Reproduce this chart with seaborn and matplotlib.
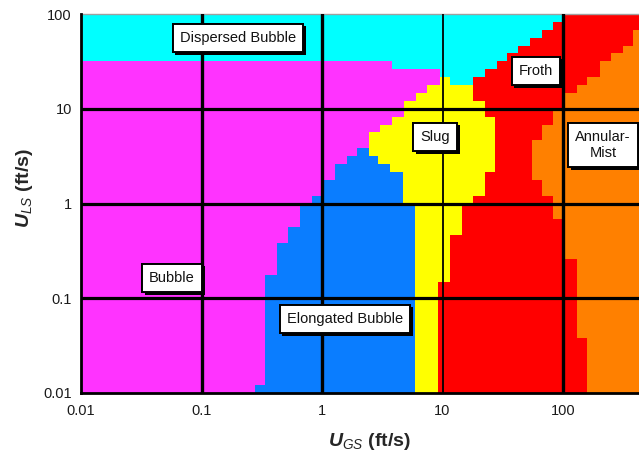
import numpy as np
import matplotlib
matplotlib.use("Agg")
import matplotlib.pyplot as plt
import matplotlib.patheffects as pe
from matplotlib.ticker import FixedLocator, FixedFormatter, LogLocator, NullFormatter
import seaborn as sns

# ---------------------------------------------------------------------------
# Flow-regime map on a U_GS / U_LS grid.
# Each regime is described row by row: *_uls holds the lower U_LS edge of a
# step, *_ugs the superficial gas velocity where that regime ends on the step.
# A value of 0.01 means the regime is absent on that step.
# ---------------------------------------------------------------------------
bubble_uls = [0.01, 0.0121, 0.178, 0.383, 0.562, 1.0, 1.21, 1.78, 2.61, 3.16,
              3.83, 5.62, 6.81, 8.25, 12.1, 14.7, 17.8, 26.1, 31.6]
bubble_ugs = [0.278, 0.336, 0.424, 0.523, 0.656, 0.826, 1.02, 1.28, 1.61, 1.95,
              2.45, 3.03, 3.81, 4.79, 6.03, 7.44, 9.53, 3.81, 0.01]

elongated_uls = [0.01, 1.0, 2.15, 2.61, 3.16, 3.83]
elongated_ugs = [5.91, 4.70, 3.66, 2.92, 2.45, 0.01]

slug_uls = [0.01, 0.147, 0.464, 1.0, 1.21, 2.15, 8.25, 12.1, 17.8, 21.5]
slug_ugs = [9.18, 11.5, 14.5, 17.9, 22.5, 27.3, 22.5, 17.9, 11.5, 0.01]

dispersed_uls = [0.01, 17.8, 21.5, 26.1, 31.6, 38.3, 46.4, 56.2, 68.1, 82.5]
dispersed_ugs = [0.01, 17.9, 22.5, 28.3, 34.3, 42.3, 53.2, 67.0, 82.6, 100]

froth_uls = [0.01, 0.0383, 0.261, 0.681, 1.21, 1.78, 4.64, 6.81, 10, 14.7,
             17.8, 21.5, 31.6, 38.3, 46.4, 68.1]
froth_ugs = [158, 131, 100, 82.6, 67.0, 55.3, 67.0, 82.6, 100, 131,
             158, 203, 250, 315, 381, 1000]

regimes = ["Bubble", "Elongated Bubble", "Slug", "Dispersed Bubble", "Froth", "Annular-Mist"]
regime_colors = ["#ff33ff", "#0a7dff", "#ffff00", "#00ffff", "#ff0000", "#ff8000"]

# label text and anchor (U_GS, U_LS)
label_text = ["Dispersed Bubble", "Froth", "Slug", "Annular-\nMist", "Bubble", "Elongated Bubble"]
label_ugs = [0.201, 59.7, 8.67, 215, 0.0569, 1.55]
label_uls = [55.9, 25.1, 5.05, 4.15, 0.164, 0.0607]

x_ticks = [0.01, 0.1, 1, 10, 100]
x_tick_labels = ["0.01", "0.1", "1", "10", "100"]
y_ticks = [0.01, 0.1, 1, 10, 100]
y_tick_labels = ["0.01", "0.1", "1", "10", "100"]

x_min, x_max = 0.01, 427
y_min, y_max = 0.01, 100

# ---------------------------------------------------------------------------
sns.set_theme(style="white")
plt.rcParams["font.family"] = ["Liberation Sans", "DejaVu Sans"]
plt.rcParams["mathtext.fontset"] = "custom"
plt.rcParams["mathtext.rm"] = "Liberation Sans"
plt.rcParams["mathtext.it"] = "Liberation Sans:italic"
plt.rcParams["mathtext.bf"] = "Liberation Sans:bold"
plt.rcParams["mathtext.bfit"] = "Liberation Sans:italic:bold"

palette = sns.color_palette(regime_colors)

fig = plt.figure(figsize=(6.39, 4.59), dpi=100)
ax = fig.add_axes([81 / 639, 66 / 459, 558 / 639, 379 / 459])
ax.set_xscale("log")
ax.set_yscale("log")
ax.set_xlim(x_min, x_max)
ax.set_ylim(y_min, y_max)

# common row edges
edges = np.unique(np.concatenate([bubble_uls, elongated_uls, slug_uls,
                                  dispersed_uls, froth_uls, [y_max]]))
rows = edges[:-1]


def step_value(uls, ugs, y):
    idx = np.searchsorted(np.asarray(uls), y, side="right") - 1
    return np.asarray(ugs, dtype=float)[idx]


b_bubble = step_value(bubble_uls, bubble_ugs, rows)
b_elong = np.maximum(b_bubble, step_value(elongated_uls, elongated_ugs, rows))
b_slug = np.maximum(b_elong, step_value(slug_uls, slug_ugs, rows))
b_disp = np.maximum(b_slug, step_value(dispersed_uls, dispersed_ugs, rows))
b_froth = np.maximum(b_disp, step_value(froth_uls, froth_ugs, rows))
b_start = np.full_like(b_bubble, x_min)
b_end = np.full_like(b_bubble, x_max)

bounds = [b_start, b_bubble, b_elong, b_slug, b_disp, b_froth, b_end]
for i, name in enumerate(regimes):
    left = np.append(bounds[i], bounds[i][-1])
    right = np.append(bounds[i + 1], bounds[i + 1][-1])
    ax.fill_betweenx(edges, left, right, step="post",
                     color=palette[i], linewidth=0, antialiased=False,
                     zorder=1, label=name)

# decade grid lines
for xv in [0.1, 1, 100]:
    ax.axvline(xv, color="black", lw=2.4, zorder=3)
ax.axvline(10, color="black", lw=1.3, zorder=3)
for yv in [0.1, 1, 10]:
    ax.axhline(yv, color="black", lw=2.3, zorder=3)

# spines
for side in ["left", "bottom"]:
    ax.spines[side].set_color("black")
    ax.spines[side].set_linewidth(2.0)
    ax.spines[side].set_zorder(4)
ax.spines["top"].set_color("#a0a0a0")
ax.spines["top"].set_linewidth(1.0)
ax.spines["right"].set_visible(False)

# ticks
ax.xaxis.set_major_locator(FixedLocator(x_ticks))
ax.xaxis.set_major_formatter(FixedFormatter(x_tick_labels))
ax.yaxis.set_major_locator(FixedLocator(y_ticks))
ax.yaxis.set_major_formatter(FixedFormatter(y_tick_labels))
ax.xaxis.set_minor_locator(LogLocator(base=10, subs=np.arange(2, 10)))
ax.yaxis.set_minor_locator(LogLocator(base=10, subs=np.arange(2, 10)))
ax.xaxis.set_minor_formatter(NullFormatter())
ax.yaxis.set_minor_formatter(NullFormatter())
ax.tick_params(which="major", length=0, labelsize=10.5, colors="#1a1a1a")
ax.tick_params(axis="x", which="major", pad=8)
ax.tick_params(axis="y", which="major", pad=6.5)
ax.tick_params(which="minor", direction="in", length=3, width=1.0,
               color="black", bottom=True, left=True, top=False, right=False)

# axis titles
ax.text(0.518, -0.129, r"$\mathbfit{U}_{\mathit{GS}}$ (ft/s)", transform=ax.transAxes,
        ha="center", va="center", fontsize=14, fontweight="bold")
ax.text(-0.102, 0.541, r"$\mathbfit{U}_{\mathit{LS}}$ (ft/s)", transform=ax.transAxes,
        ha="center", va="center", fontsize=14, fontweight="bold", rotation=90)

# regime labels
for txt, xv, yv in zip(label_text, label_ugs, label_uls):
    t = ax.text(xv, yv, txt, ha="center", va="center", fontsize=10.5,
                color="#111111", zorder=6, linespacing=1.15,
                bbox=dict(boxstyle="square,pad=0.5", facecolor="white",
                          edgecolor="black", linewidth=1.4))
    t.get_bbox_patch().set_path_effects([
        pe.withSimplePatchShadow(offset=(2, -2), shadow_rgbFace="black", alpha=1.0),
        pe.Normal()])

fig.savefig("out.png", dpi=100, facecolor="white")
